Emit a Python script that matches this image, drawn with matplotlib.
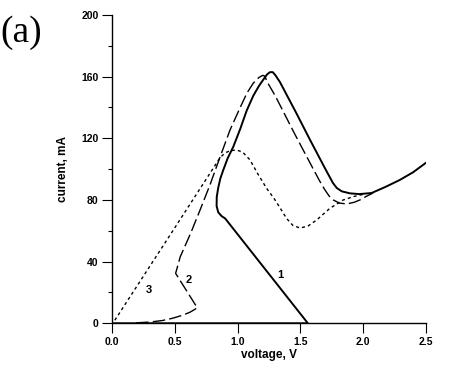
import matplotlib.pyplot as plt

# curve 1 (solid)
v1 = [0.0, 1.56, 0.90, 0.872, 0.845, 0.832, 0.833, 0.845, 0.862, 0.885, 0.92, 0.965, 1.02,
      1.072, 1.124, 1.17, 1.204, 1.235, 1.258, 1.28, 1.30, 1.337, 1.47, 1.577, 1.70, 1.76,
      1.79, 1.83, 1.895, 1.97, 2.068, 2.18, 2.294, 2.40, 2.50]
i1 = [0.0, 0.0, 68.0, 69.5, 72.0, 76.0, 82.0, 88.0, 94.0, 99.4, 107.0, 114.5, 126.0,
      138.0, 147.5, 154.0, 158.0, 161.5, 162.9, 162.9, 161.0, 156.5, 136.0, 119.0, 100.0, 91.0,
      87.8, 85.6, 84.3, 83.8, 84.5, 88.5, 93.0, 98.0, 104.0]

# curve 2 (long dash)
v2 = [0.19, 0.30, 0.40, 0.478, 0.56, 0.62, 0.678, 0.505, 0.542, 0.625, 0.70, 0.78, 0.86,
      0.939, 1.02, 1.075, 1.124, 1.17, 1.20, 1.218, 1.232, 1.30, 1.457, 1.60, 1.656, 1.696,
      1.73, 1.763, 1.81, 1.87, 1.93, 1.975, 2.03, 2.08]
i2 = [0.3, 0.8, 1.8, 3.2, 5.2, 7.2, 10.0, 32.4, 43.2, 58.4, 73.5, 90.0, 108.0,
      125.4, 140.0, 149.5, 155.7, 159.5, 160.8, 160.3, 157.0, 147.5, 122.5, 100.5, 92.0, 86.5,
      82.5, 80.0, 78.0, 77.4, 78.5, 80.0, 82.5, 84.5]

# curve 3 (short dash)
v3 = [0.02, 0.478, 0.86, 0.90, 0.94, 0.992, 1.04, 1.098, 1.16, 1.231, 1.29, 1.337, 1.39,
      1.44, 1.497, 1.56, 1.63, 1.736, 1.842, 1.93, 2.02]
i3 = [2.0, 59.4, 107.5, 110.5, 112.0, 112.4, 111.0, 106.0, 97.0, 87.5, 81.0, 75.0, 68.0,
      63.5, 61.8, 63.0, 67.0, 74.6, 80.0, 82.3, 84.0]

labels = ["1", "2", "3"]
label_pos = [(1.34, 31.4), (0.61, 28.3), (0.29, 21.8)]

fig = plt.figure(figsize=(4.54, 3.74), dpi=100)
ax = fig.add_axes([0.2474, 0.1356, 0.6903, 0.8244])

ax.plot(v1, i1, color='black', lw=1.4, solid_joinstyle='round')
ax.plot(v2, i2, color='black', lw=1.0, dashes=(9, 3))
ax.plot(v3, i3, color='black', lw=1.0, dashes=(2.2, 2.2))

for t, (x, y) in zip(labels, label_pos):
    ax.text(x, y, t, fontsize=8, fontweight='bold', family='Liberation Sans',
            ha='center', va='center')

ax.set_xlim(0, 2.5)
ax.set_ylim(0, 200)
ax.set_xticks([0.0, 0.5, 1.0, 1.5, 2.0, 2.5])
ax.set_xticklabels(['0.0', '0.5', '1.0', '1.5', '2.0', '2.5'])
ax.set_yticks([0, 40, 80, 120, 160, 200])
ax.set_yticks(range(0, 201, 20), minor=True)

for s in ['top', 'right']:
    ax.spines[s].set_visible(False)
for s in ['left', 'bottom']:
    ax.spines[s].set_linewidth(1.0)

ax.tick_params(axis='both', which='major', direction='out', length=7, width=0.8, pad=3,
               labelsize=7.5)
ax.tick_params(axis='y', which='minor', direction='out', length=3, width=0.8)
for lab in ax.get_xticklabels() + ax.get_yticklabels():
    lab.set_fontweight('bold')
    lab.set_family('Liberation Sans')

ax.set_xlabel('voltage, V', fontsize=8.5, fontweight='bold', family='Liberation Sans', labelpad=1)
ax.set_ylabel('current, mA', fontsize=8.5, fontweight='bold', family='Liberation Sans', labelpad=9)

fig.text(0.0, 0.913, '(a)', fontsize=27, family='Liberation Serif', ha='left', va='center')

fig.savefig('out.png', dpi=100)
